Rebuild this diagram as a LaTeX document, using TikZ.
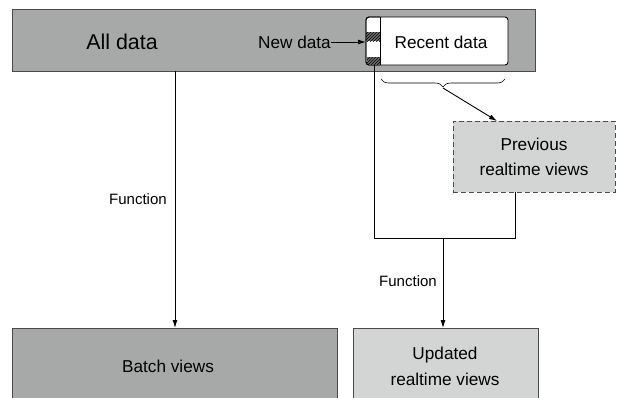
\documentclass[tikz,border=0pt]{standalone}
\usepackage{fontspec}
\setmainfont{Liberation Sans}
\usetikzlibrary{arrows.meta,decorations.pathreplacing,patterns}
\definecolor{darkfill}{HTML}{A7A9A9}
\definecolor{lightfill}{HTML}{D3D4D4}
\definecolor{edge}{HTML}{4A4A4A}
\begin{document}
\begin{tikzpicture}[x=1pt,y=-1pt,
  box/.style={draw=edge,line width=0.9pt,inner sep=0pt,align=center},
  conn/.style={line width=0.9pt},
  arr/.style={conn,-{Latex[length=8pt,width=5pt]}},
  lbl/.style={font=\fontsize{15}{18}\selectfont},
  txt/.style={font=\fontsize{17.2}{20}\selectfont}]
\useasboundingbox (0,0) rectangle (627,397);
\clip (0,0) rectangle (627,397);

% all data bar
\node[box,fill=darkfill,minimum width=523pt,minimum height=62pt] (all) at (273.5,40) {};
\node[font=\fontsize{21.4}{24}\selectfont] (alltxt) at (122,42) {All data};

% recent data box with its hatched leading strip
\node[box,fill=white,draw=black,rounded corners=3pt,minimum width=142pt,minimum height=48pt] (recent) at (437,41) {};
\fill[edge!80] (366,32) rectangle (380,41);
\fill[pattern=north east lines,pattern color=black] (366,32) rectangle (380,41);
\fill[edge!80] (367,57) rectangle (380,64);
\fill[pattern=north east lines,pattern color=black] (367,57) rectangle (380,64);
\draw[line width=0.9pt,rounded corners=3pt] (380,17) -- (366,17) -- (366,65) -- (380,65);
\draw[line width=0.8pt] (380,17) -- (380,65);
\coordinate (strip) at (374,65);
\coordinate (stripin) at (366,42);
\node[txt] (rtxt) at (441,42) {Recent data};
\node[txt,anchor=east,inner sep=0pt] (newdata) at (331,42) {New data};
\draw[arr] (newdata.east) -- (stripin);

% brace under the recent data
\draw[line width=0.6pt,decorate,decoration={brace,mirror,amplitude=8pt}] (381,79) -- (505,79);
\coordinate (bracetip) at (443,88);

% previous realtime views
\node[box,fill=lightfill,dashed,dash pattern=on 5pt off 3pt,minimum width=162pt,minimum height=71pt,font=\fontsize{17.2}{25}\selectfont] (prev) at (534,156.5) {Previous\\realtime views};
\draw[arr] (bracetip) -- (497,121);

% merge of new data and previous views
\coordinate (join) at (443,238.5);
\draw[conn] (strip) |- (join) -| (prev.south -| 515,0);
\node[box,fill=lightfill,minimum width=185pt,minimum height=90pt,anchor=north] (updated) at (445.5,328) {};
\node[font=\fontsize{17.2}{26}\selectfont,align=center] (utxt) at (445,366) {Updated\\realtime views};
\draw[arr] (join) -- (updated.north -| join);
\node[lbl] (f2) at (408,281) {Function};

% batch views
\node[box,fill=darkfill,minimum width=325pt,minimum height=90pt,anchor=north] (batch) at (174.5,328) {};
\node[txt] (btxt) at (168,366) {Batch views};
\draw[arr] (175,71) -- (batch.north -| 175,0);
\node[lbl] (f1) at (138,199) {Function};
\end{tikzpicture}
\end{document}
